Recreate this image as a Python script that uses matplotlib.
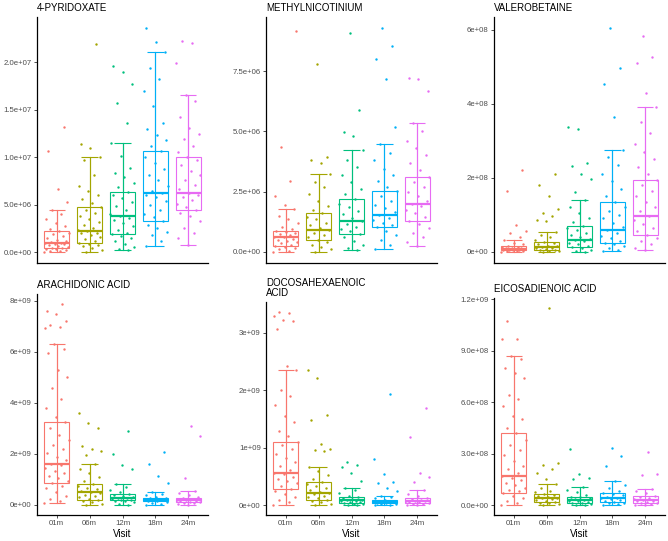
import numpy as np
import matplotlib
matplotlib.use('Agg')
import matplotlib.pyplot as plt

plt.rcParams['font.family'] = ['Liberation Sans', 'DejaVu Sans']

visits = ['01m', '06m', '12m', '18m', '24m']
colors = ['#F8766D', '#A3A500', '#00BF7D', '#00B0F6', '#E76BF3']
titles = ['4-PYRIDOXATE', 'METHYLNICOTINIUM', 'VALEROBETAINE',
          'ARACHIDONIC ACID', 'DOCOSAHEXAENOIC\nACID', 'EICOSADIENOIC ACID']

# box stats per visit: whisker low, q1, median, q3, whisker high (in panel units)
pyridoxate_box = [[0.1, 0.45, 1.05, 2.27, 4.44], [0.07, 1.05, 2.27, 4.79, 10.04],
                  [0.28, 1.92, 3.85, 6.4, 11.5], [0.63, 3.32, 6.3, 10.67, 21.05],
                  [0.8, 4.48, 6.3, 10.0, 16.6]]
methylnic_box = [[0.0, 0.26, 0.6, 0.88, 1.77], [0.01, 0.51, 0.92, 1.6, 3.22],
                 [0.07, 0.74, 1.26, 2.18, 4.21], [0.12, 1.01, 1.51, 2.52, 4.46],
                 [0.26, 1.29, 1.99, 3.09, 5.33]]
valero_box = [[0.0, 0.045, 0.08, 0.15, 0.33], [0.0, 0.06, 0.13, 0.27, 0.53],
              [0.0, 0.13, 0.31, 0.7, 1.4], [0.02, 0.24, 0.58, 1.34, 2.74],
              [0.04, 0.45, 0.98, 1.94, 3.91]]
arachid_box = [[0.06, 0.86, 1.61, 3.24, 6.3], [0.0, 0.2, 0.51, 0.81, 1.61],
               [0.0, 0.19, 0.26, 0.42, 0.83], [0.0, 0.14, 0.2, 0.29, 0.49],
               [0.0, 0.1, 0.19, 0.27, 0.55]]
dha_box = [[0.01, 0.29, 0.57, 1.11, 2.35], [0.01, 0.1, 0.21, 0.4, 0.67],
           [0.0, 0.04, 0.086, 0.14, 0.31], [0.0, 0.04, 0.06, 0.097, 0.16],
           [0.0, 0.04, 0.074, 0.126, 0.26]]
eicosa_box = [[0.0, 0.71, 1.72, 4.2, 8.68], [0.0, 0.21, 0.39, 0.65, 1.23],
              [0.0, 0.15, 0.32, 0.5, 1.06], [0.0, 0.21, 0.39, 0.71, 1.4],
              [0.0, 0.15, 0.32, 0.56, 0.95]]

# individual samples per visit (in panel units)
pyridoxate_pts = [
    [0.1, 0.15, 0.2, 0.3, 0.35, 0.4, 0.45, 0.5, 0.6, 0.7, 0.8, 0.85, 0.9, 1.0, 1.05, 1.1, 1.2, 1.3,
     1.5, 1.7, 1.9, 2.1, 2.27, 2.5, 2.8, 3.1, 3.5, 4.0, 4.44, 5.35, 6.7, 10.7, 13.2],
    [0.07, 0.3, 0.5, 0.7, 0.8, 0.9, 1.05, 1.2, 1.4, 1.6, 1.8, 2.0, 2.1, 2.27, 2.4, 2.6, 2.9, 3.2,
     3.5, 3.8, 4.2, 4.5, 4.79, 5.2, 5.6, 6.0, 6.5, 7.0, 8.1, 9.7, 10.04, 11.0, 11.4, 21.9],
    [0.28, 0.4, 0.6, 0.9, 1.2, 1.5, 1.7, 1.92, 2.1, 2.4, 2.8, 3.1, 3.4, 3.6, 3.85, 4.1, 4.5, 4.9,
     5.3, 5.7, 6.1, 6.4, 6.9, 7.3, 7.9, 8.4, 8.9, 10.1, 11.5, 13.6, 15.7, 17.7, 19.0, 19.6],
    [0.63, 1.2, 1.8, 2.2, 2.6, 2.9, 3.32, 3.7, 4.1, 4.5, 5.0, 5.4, 5.8, 6.1, 6.3, 6.5, 7.0, 7.6,
     8.2, 8.8, 9.4, 10.0, 10.67, 11.2, 11.8, 12.4, 13.0, 13.6, 15.4, 17.0, 18.3, 19.4, 21.05, 22.1, 23.6],
    [0.8, 1.5, 2.0, 2.6, 3.3, 3.8, 4.2, 4.48, 4.8, 5.1, 5.5, 5.8, 6.0, 6.3, 6.7, 7.1, 7.6, 8.1,
     8.6, 9.2, 9.7, 10.0, 10.6, 11.2, 11.9, 12.5, 13.1, 14.3, 15.9, 16.6, 19.9, 22.0, 22.3],
]
methylnic_pts = [
    [0.0, 0.05, 0.1, 0.15, 0.2, 0.26, 0.3, 0.35, 0.4, 0.45, 0.5, 0.55, 0.6, 0.63, 0.68, 0.72,
     0.77, 0.82, 0.88, 0.95, 1.05, 1.2, 1.35, 1.5, 1.77, 1.95, 2.32, 2.93, 4.35, 9.17],
    [0.01, 0.1, 0.2, 0.3, 0.4, 0.51, 0.6, 0.7, 0.8, 0.92, 1.0, 1.1, 1.2, 1.35, 1.45, 1.6, 1.75,
     1.9, 2.1, 2.4, 2.7, 2.9, 3.22, 3.69, 3.83, 3.94, 7.8],
    [0.07, 0.15, 0.3, 0.45, 0.6, 0.74, 0.85, 0.95, 1.05, 1.15, 1.26, 1.4, 1.55, 1.7, 1.85, 2.0,
     2.18, 2.4, 2.6, 2.9, 3.2, 3.5, 3.8, 4.21, 4.8, 4.96, 5.9, 9.06],
    [0.12, 0.3, 0.5, 0.7, 0.85, 1.01, 1.1, 1.2, 1.3, 1.4, 1.51, 1.65, 1.8, 1.95, 2.1, 2.3, 2.52,
     2.7, 2.95, 3.2, 3.45, 3.8, 4.1, 4.46, 5.17, 7.16, 8.0, 8.53, 9.28],
    [0.26, 0.4, 0.6, 0.8, 1.0, 1.15, 1.29, 1.45, 1.6, 1.75, 1.9, 1.99, 2.1, 2.3, 2.5, 2.7, 2.9,
     3.09, 3.4, 3.7, 4.0, 4.3, 4.6, 5.0, 5.33, 6.68, 7.17, 7.2],
]
valero_pts = [
    [0.0, 0.01, 0.02, 0.03, 0.04, 0.045, 0.05, 0.06, 0.07, 0.08, 0.09, 0.1, 0.11, 0.12, 0.13,
     0.15, 0.2, 0.25, 0.33, 0.4, 0.51, 0.55, 0.73, 1.64, 2.2],
    [0.0, 0.02, 0.03, 0.04, 0.06, 0.07, 0.09, 0.11, 0.13, 0.15, 0.17, 0.2, 0.23, 0.27, 0.32, 0.4,
     0.45, 0.53, 0.82, 0.86, 0.97, 1.04, 1.15, 1.52, 1.8, 2.1],
    [0.0, 0.03, 0.06, 0.1, 0.13, 0.16, 0.2, 0.24, 0.28, 0.31, 0.35, 0.4, 0.45, 0.5, 0.58, 0.65,
     0.7, 0.8, 0.9, 1.05, 1.2, 1.4, 1.62, 1.98, 2.11, 2.32, 2.41, 3.33, 3.36],
    [0.02, 0.06, 0.1, 0.15, 0.2, 0.24, 0.3, 0.36, 0.42, 0.5, 0.58, 0.68, 0.78, 0.9, 1.0, 1.1,
     1.22, 1.34, 1.5, 1.7, 1.9, 2.1, 2.35, 2.55, 2.74, 3.65, 4.52, 4.97, 6.04],
    [0.04, 0.1, 0.2, 0.3, 0.38, 0.45, 0.55, 0.65, 0.75, 0.85, 0.98, 1.1, 1.2, 1.35, 1.5, 1.65,
     1.8, 1.94, 2.1, 2.3, 2.5, 2.7, 2.9, 3.2, 3.5, 3.91, 4.28, 5.1, 5.26, 5.83],
]
arachid_pts = [
    [0.06, 0.15, 0.25, 0.35, 0.5, 0.65, 0.75, 0.86, 0.95, 1.05, 1.15, 1.25, 1.35, 1.45, 1.55,
     1.61, 1.75, 1.9, 2.05, 2.2, 2.35, 2.55, 2.75, 3.0, 3.24, 3.45, 3.8, 4.15, 4.6, 5.0, 5.3,
     5.95, 6.1, 6.3, 6.95, 6.98, 7.04, 7.23, 7.49, 7.6, 7.88],
    [0.0, 0.05, 0.1, 0.15, 0.2, 0.25, 0.3, 0.35, 0.4, 0.45, 0.51, 0.56, 0.62, 0.68, 0.75, 0.81,
     0.95, 1.1, 1.25, 1.4, 1.61, 1.96, 2.12, 2.21, 2.3, 3.02, 3.21, 3.6],
    [0.0, 0.05, 0.1, 0.14, 0.17, 0.19, 0.21, 0.23, 0.26, 0.28, 0.31, 0.34, 0.38, 0.42, 0.5, 0.6,
     0.7, 0.83, 1.41, 1.57, 1.98, 2.89],
    [0.0, 0.04, 0.08, 0.11, 0.14, 0.16, 0.18, 0.2, 0.22, 0.24, 0.26, 0.29, 0.33, 0.38, 0.43,
     0.49, 0.87, 1.13, 1.61, 2.06],
    [0.0, 0.03, 0.06, 0.08, 0.1, 0.12, 0.14, 0.17, 0.19, 0.21, 0.23, 0.27, 0.32, 0.38, 0.45,
     0.55, 1.06, 2.7, 3.08],
]
dha_pts = [
    [0.01, 0.05, 0.1, 0.15, 0.2, 0.25, 0.29, 0.33, 0.38, 0.42, 0.46, 0.5, 0.54, 0.57, 0.62, 0.68,
     0.75, 0.82, 0.9, 0.98, 1.05, 1.11, 1.2, 1.3, 1.45, 1.55, 1.75, 1.9, 2.0, 2.35, 2.42, 3.07,
     3.2, 3.22, 3.29, 3.34, 3.37],
    [0.01, 0.03, 0.05, 0.08, 0.1, 0.12, 0.14, 0.17, 0.19, 0.21, 0.24, 0.27, 0.3, 0.34, 0.37, 0.4,
     0.45, 0.52, 0.6, 0.67, 0.94, 0.97, 0.98, 1.06, 1.49, 1.57, 2.22, 2.36],
    [0.0, 0.01, 0.02, 0.03, 0.04, 0.05, 0.06, 0.07, 0.08, 0.086, 0.095, 0.105, 0.12, 0.14, 0.17,
     0.21, 0.26, 0.31, 0.42, 0.57, 0.66, 0.7, 0.75],
    [0.0, 0.01, 0.02, 0.03, 0.04, 0.045, 0.05, 0.055, 0.06, 0.065, 0.07, 0.08, 0.097, 0.12, 0.14,
     0.16, 0.25, 0.3, 0.38, 0.4, 0.54, 0.8, 1.93],
    [0.0, 0.01, 0.02, 0.03, 0.04, 0.05, 0.06, 0.07, 0.074, 0.08, 0.09, 0.105, 0.126, 0.16, 0.2,
     0.26, 0.4, 0.5, 0.57, 1.19, 1.69],
]
eicosa_pts = [
    [0.0, 0.1, 0.25, 0.4, 0.55, 0.71, 0.8, 0.9, 1.0, 1.15, 1.3, 1.45, 1.6, 1.72, 1.9, 2.1, 2.3,
     2.6, 2.9, 3.2, 3.5, 3.8, 4.2, 4.5, 5.0, 5.2, 5.8, 6.2, 6.4, 7.4, 7.7, 8.0, 8.5, 8.68, 9.67,
     9.68, 10.73],
    [0.0, 0.05, 0.1, 0.15, 0.21, 0.25, 0.3, 0.35, 0.39, 0.43, 0.48, 0.53, 0.6, 0.65, 0.75, 0.85,
     1.0, 1.23, 1.55, 1.88, 2.11, 2.33, 2.48, 11.5],
    [0.0, 0.03, 0.06, 0.1, 0.15, 0.19, 0.23, 0.27, 0.32, 0.36, 0.4, 0.45, 0.5, 0.6, 0.75, 0.9,
     1.06, 1.55, 1.59, 1.83, 3.27],
    [0.0, 0.05, 0.1, 0.15, 0.21, 0.25, 0.3, 0.35, 0.39, 0.43, 0.5, 0.58, 0.65, 0.71, 0.85, 1.0,
     1.2, 1.4, 2.3, 2.89, 3.32],
    [0.0, 0.03, 0.06, 0.1, 0.15, 0.19, 0.23, 0.27, 0.32, 0.36, 0.42, 0.5, 0.56, 0.7, 0.85, 0.95,
     1.77, 1.81, 3.08],
]

units = [1e6, 1e6, 1e8, 1e9, 1e9, 1e8]
yticks = [[0, 5e6, 1e7, 1.5e7, 2e7], [0, 2.5e6, 5e6, 7.5e6], [0, 2e8, 4e8, 6e8],
          [0, 2e9, 4e9, 6e9, 8e9], [0, 1e9, 2e9, 3e9], [0, 3e8, 6e8, 9e8, 1.2e9]]
tickfmt = ['%.1e', '%.1e', '%.0e', '%.0e', '%.0e', '%.1e']

all_pts = [pyridoxate_pts, methylnic_pts, valero_pts, arachid_pts, dha_pts, eicosa_pts]
all_box = [pyridoxate_box, methylnic_box, valero_box, arachid_box, dha_box, eicosa_box]

W, H = 668, 541
fig = plt.figure(figsize=(W / 100, H / 100), dpi=100)
lefts = [37, 266, 494]
# (top, bottom) of each panel in pixels
rows = [[(17, 263)] * 3, [(294, 515), (302, 515), (298, 515)]]

for k in range(6):
    r, c = divmod(k, 3)
    top, bot = rows[r][c]
    ax = fig.add_axes([lefts[c] / W, (H - bot) / H, 171 / W, (bot - top) / H])
    u = units[k]
    vals = []
    for i in range(5):
        col = colors[i]
        wl, q1, md, q3, wh = [v * u for v in all_box[k][i]]
        pts = np.array(all_pts[k][i]) * u
        vals += list(pts) + [wl, wh]
        x = i + 1
        # errorbar-style whisker through the box
        ax.vlines(x, wl, wh, color=col, lw=0.8, zorder=2)
        ax.hlines([wl, wh], x - 0.25, x + 0.25, color=col, lw=0.8, zorder=2)
        ax.bxp([dict(med=md, q1=q1, q3=q3, whislo=wl, whishi=wh, fliers=[])],
               positions=[x], widths=0.75, showcaps=False, patch_artist=True,
               boxprops=dict(facecolor='none', edgecolor=col, lw=0.8),
               whiskerprops=dict(color=col, lw=0.8),
               medianprops=dict(color=col, lw=1.6), manage_ticks=False, zorder=2)
        n = len(pts)
        off = (((np.arange(n) * 0.618034 + i * 0.37) % 1) - 0.5) * 0.76
        ax.scatter(x + off, pts, s=3, color=col, lw=0, zorder=3)
    lo, hi = min(vals), max(vals)
    pad = (hi - lo) * 0.05
    ax.set_ylim(lo - pad, hi + pad)
    ax.set_xlim(0.4, 5.6)
    ax.set_yticks(yticks[k])
    ax.set_yticklabels([tickfmt[k] % t for t in yticks[k]])
    for s in ['top', 'right']:
        ax.spines[s].set_visible(False)
    for s in ['left', 'bottom']:
        ax.spines[s].set_linewidth(0.9)
        ax.spines[s].set_color('black')
    ax.tick_params(axis='both', labelsize=5.6, labelcolor='#4D4D4D', length=2.2,
                   width=0.6, color='#333333', pad=1.5)
    ax.set_xticks(range(1, 6))
    if r == 0:
        ax.tick_params(axis='x', length=0, labelbottom=False)
    else:
        ax.set_xticklabels(visits)
        ax.set_xlabel('Visit', fontsize=7, labelpad=1)
    ax.set_title(titles[k], loc='left', fontsize=7, pad=4, linespacing=1.05)

fig.savefig('out.png', dpi=100)
